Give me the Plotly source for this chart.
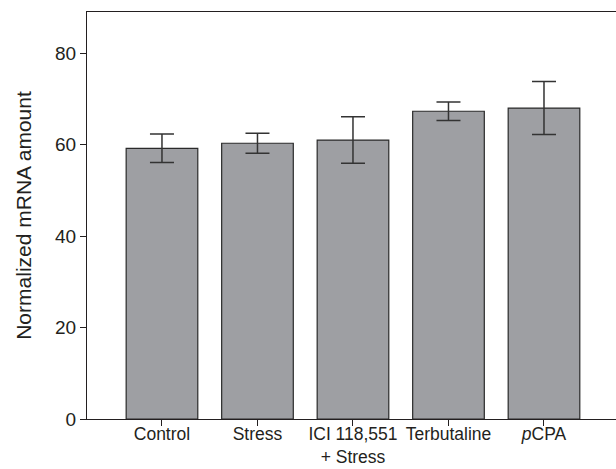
import plotly.graph_objects as go

categories = ["Control", "Stress", "ICI 118,551<br>+ Stress", "Terbutaline", "<i>p</i>CPA"]
values = [59.2, 60.3, 61.0, 67.3, 68.0]
errors = [3.1, 2.2, 5.1, 2.0, 5.8]
y_ticks = [0, 20, 40, 60, 80]

FONT = "Liberation Sans, Arial, sans-serif"
TXT = "#231f20"

fig = go.Figure()
fig.add_trace(go.Bar(
    x=list(range(len(categories))), y=values,
    width=0.75,
    marker=dict(color="#9e9fa3", line=dict(color="#2a2a2a", width=1.2)),
    error_y=dict(type="data", array=errors, visible=True, color="#333333",
                 thickness=1.5, width=12),
))

fig.update_layout(
    width=616, height=469,
    margin=dict(l=87, r=0, t=12, b=50, autoexpand=False),
    plot_bgcolor="white", paper_bgcolor="white",
    showlegend=False,
    font=dict(family=FONT, color=TXT, size=18),
    xaxis=dict(
        range=[-0.785, 4.754],
        tickmode="array", tickvals=list(range(len(categories))), ticktext=categories,
        showgrid=False, zeroline=False, automargin=False,
        showline=True, linecolor="#231f20", linewidth=1.2, mirror=True,
        ticks="outside", ticklen=6, tickcolor="#231f20",
        ticklabelstandoff=-7,
        tickfont=dict(size=17.5, family=FONT, color=TXT),
    ),
    yaxis=dict(
        range=[0, 89],
        tickmode="array", tickvals=y_ticks,
        showgrid=False, zeroline=False, automargin=False,
        showline=True, linecolor="#231f20", linewidth=1.2,
        ticks="outside", ticklen=6, tickcolor="#231f20",
        tickfont=dict(size=19, family=FONT, color=TXT),
        title=dict(text="Normalized mRNA amount", font=dict(size=21, family=FONT, color=TXT), standoff=17),
    ),
)

fig.write_html(
    "out.html",
    config={"displayModeBar": False},
    post_script="document.body.style.margin='0';document.body.style.overflow='hidden';",
)
